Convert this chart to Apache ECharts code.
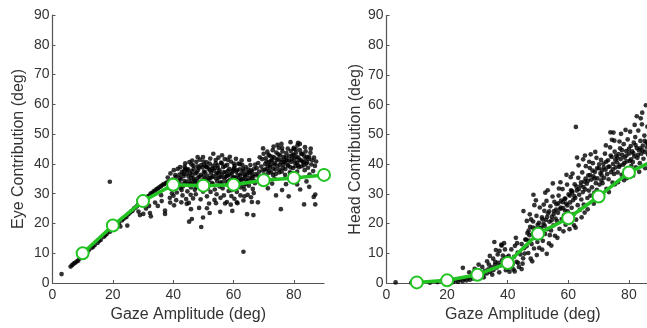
<!DOCTYPE html>
<html>
<head>
<meta charset="utf-8">
<script src="https://cdn.jsdelivr.net/npm/echarts@6/dist/echarts.min.js"></script>
<style>html,body{margin:0;padding:0;background:#fff;overflow:hidden}#c{width:662px;height:328px}</style>
</head>
<body>
<div id="c"></div>
<script>
// Bin centers (deg) for the mean curves
const binCenters = [10, 20, 30, 40, 50, 60, 70, 80, 90];
// Mean eye contribution per bin (left panel, green)
const eyeMean = [10, 19.3, 27.5, 33, 32.7, 33, 34.5, 35.3, 36.3];
// Mean head contribution per bin (right panel, green)
const headMean = [0.2, 0.9, 2.8, 6.7, 16.6, 21.8, 29.1, 37.2, 42];

// Individual gaze shifts: [gaze amplitude, eye contribution]
const eyePoints = [
[3,3],[6,5.5],[6.5,6],[7,6.5],[7.5,6.8],[8,7.2],[8.5,7.5],[9,8.2],[10,9],[11,9.8],[11.5,10.5],[12,11],[13,11.8],[13.5,12.2],[14,12.8],[15,13.5],[15.5,14.2],[16,14.5],[17,15.5],[17.5,16],[18,16.5],[19,17.2],[20,18],[21,18.8],[21.5,19.5],[22,20],[22.5,19],[23,21],[23.5,21.5],[24,22],[24.5,22.2],[25,23],[25.5,23.4],[26,24],[26.5,24.2],[27,25],[27.5,25.3],[28,25.8],[28.5,26.5],[29,26.8],[30,27.5],[30.5,28],[31,28.5],[31.5,29],[32,29.3],[32.5,30],[33,30.2],[33.5,30.8],[34,31],[34.5,31.5],[35,31.8],[35.5,32.2],[36,32.5],[36.5,33],[37,33.2],[37.5,33.5],[38,33.8],[39,34.2],[38.5,32],[39.5,33],
[19,34],[24.8,19.3],[28.5,24],[30.1,23.2],[32.3,23.5],[32.6,22.4],[37.3,23.2],[37.3,24.3],[32,25.9],[34.9,25.9],[36.2,27.5],[39,27],[29,22.8],[31,25],[34,27],[36,29.5],
[38.2,35.4],[38.7,33.9],[39.1,36.8],[39.4,31.6],[39.8,34.7],[40.2,37.9],[40.5,32.8],[40.9,35.6],[41.2,30.4],[41.5,38.3],[41.8,34.1],[42.1,36.4],[42.4,31.9],[40.1,29.3],[41.0,27.8],[39.6,30.1],[42.3,38.9],[40.7,36.2],[38.9,28.6],[41.7,33.2],
[42.6,34.8],[42.9,37.3],[43.2,32.4],[43.5,35.9],[43.8,39.1],[44.1,33.6],[44.4,36.7],[44.7,30.8],[45.0,38.2],[45.3,34.4],[45.6,36.9],[45.9,32.1],[43.1,29.4],[44.3,28.2],[45.4,40.6],[46.0,35.3],[43.7,37.8],[44.9,33.1],[45.8,29.6],[42.8,31.2],[44.0,40.2],[45.2,26.9],
[46.2,37.6],[46.4,33.8],[46.7,39.4],[46.9,35.1],[47.2,31.3],[47.4,36.8],[47.7,40.7],[47.9,34.2],[48.2,37.9],[48.4,32.6],[48.7,35.7],[48.9,41.4],[49.2,36.3],[49.4,33.4],[49.7,38.8],[49.9,30.7],[50.1,35.9],[50.3,39.6],[46.6,28.4],[47.5,29.8],[48.1,42.3],[49.1,28.1],[49.9,42.3],[46.3,41.1],[48.6,38.7],[50.4,33.2],[47.1,34.5],
[50.6,37.2],[50.8,34.4],[51.1,40.5],[51.3,36.1],[51.6,32.3],[51.8,38.4],[52.1,35.2],[52.3,41.8],[52.6,36.9],[52.8,33.6],[53.1,39.3],[53.3,35.8],[53.6,37.7],[53.8,31.4],[54.1,40.2],[54.3,36.5],[54.6,34.1],[54.8,38.6],[55.1,35.4],[51.2,29.1],[52.4,30.6],[53.3,43.4],[54.4,29.8],[55.0,42.1],[51.9,26.7],[53.7,27.9],[50.9,39.1],[52.9,38.2],[54.7,36.9],
[55.4,37.8],[55.6,33.7],[55.9,40.4],[56.1,36.3],[56.4,31.8],[56.6,38.9],[56.9,35.1],[57.1,41.6],[57.4,37.2],[57.6,33.9],[57.9,39.7],[58.1,36.1],[58.4,30.9],[58.6,38.3],[58.9,34.6],[59.1,40.8],[59.4,36.7],[59.6,32.4],[59.9,38.1],[55.7,28.6],[56.8,29.4],[57.8,27.2],[58.8,42.4],[59.3,29.2],[56.2,42.9],[57.3,35.6],[58.3,34.2],[59.7,35.3],
[60.1,35.6],[60.4,39.3],[60.6,33.2],[60.9,37.4],[61.1,30.6],[61.4,36.2],[61.6,40.1],[61.9,34.3],[62.1,38.2],[62.4,32.1],[62.6,36.8],[62.9,39.7],[63.1,34.9],[63.4,37.6],[63.6,31.4],[63.9,35.8],[64.1,38.9],[60.3,28.3],[61.3,26.8],[62.3,29.4],[63.3,27.7],[64.2,33.3],[60.8,41.7],[62.7,41.2],[61.7,35.1],
[64.4,36.4],[64.6,34.2],[64.9,38.1],[65.1,32.7],[65.4,36.9],[65.6,39.6],[65.9,34.8],[66.1,37.3],[66.4,31.6],[66.6,35.7],[66.9,38.4],[67.1,33.5],[67.4,36.6],[64.7,29.6],[65.8,28.8],[66.7,30.2],[65.2,41.3],[67.2,39.8],
[42.2,35.3],[42.9,33.1],[43.4,36.6],[43.9,34.2],[44.6,37.9],[45.1,35.8],[45.7,33.4],[46.3,36.2],[46.8,38.3],[47.3,33.6],[47.8,37.1],[48.3,35.4],[48.8,33.1],[49.3,39.6],[49.8,34.5],[50.2,37.4],[50.7,35.1],[51.2,38.9],[51.7,34.6],[52.2,37.8],[52.7,35.5],[53.2,33.2],[53.7,38.7],[54.2,35.1],[54.7,39.5],[55.2,37.1],[55.7,35.6],[56.2,33.8],[56.7,37.2],[57.2,39.3],[57.7,35.9],[58.2,37.7],[58.7,36.4],[59.2,34.1],[59.7,37.5],[60.2,38.6],[60.7,35.2],[61.2,37.9],[61.7,33.6],[62.2,36.1],[62.7,34.7],[63.2,38.3],[63.7,36.3],[64.2,34.6],[64.8,37.2],[65.3,35.3],[65.8,37.8],[66.3,36.1],[66.8,34.3],[44.1,38.4],[46.1,39.8],[48.1,39.2],[50.1,40.8],[52.1,40.1],[54.1,41.3],[56.1,40.2],[58.1,41.4],[60.1,40.1],[62.1,39.9],[47.6,32.2],[51.4,31.7],[55.4,32.4],[59.4,31.2],[63.4,32.6],
[45.9,24.8],[46.2,21.5],[45.3,20.6],[49.3,18.8],[49.9,22],[48.6,25.2],[51.2,25.1],[52.1,23.5],[54.2,26.8],[55.6,23.9],[57.2,26.7],[59.6,24.2],[59.1,26.3],[61.1,27.1],[63.3,10.5],[66.6,22.8],[66.1,27.2],[63.6,29.1],[64.5,23.1],[42.7,27.1],[44.5,26.6],[40.3,26.1],
[67.7,38.6],[68.0,36.1],[68.2,40.3],[68.5,37.4],[68.7,42.2],[69.0,35.3],[69.2,39.1],[69.5,41.6],[69.7,37.8],[70.0,43.4],[70.2,36.4],[70.5,39.9],[70.7,41.9],[71.0,38.2],[71.2,44.1],[71.5,36.9],[71.7,40.6],[72.0,42.7],[68.1,27.1],[69.4,33.4],[70.3,34.2],[71.4,31.8],[72.1,38.9],[69.8,45.2],
[72.2,39.6],[72.5,37.1],[72.7,41.3],[73.0,44.6],[73.2,38.4],[73.5,42.1],[73.7,40.2],[74.0,36.6],[74.2,43.8],[74.5,39.3],[74.7,41.7],[75.0,45.4],[75.2,38.1],[75.5,42.9],[75.7,40.6],[76.0,37.4],[76.2,44.2],[76.5,39.8],[76.7,42.3],[72.8,33.4],[73.6,35.1],[74.1,29.4],[75.7,24.8],[76.1,31.2],[74.6,46.4],[75.9,46.7],[73.3,45.8],
[77.0,40.9],[77.2,38.3],[77.5,43.6],[77.7,41.2],[78.0,45.1],[78.2,39.4],[78.5,42.6],[78.7,37.2],[79.0,44.3],[79.2,40.7],[79.5,42.9],[79.7,38.6],[80.0,45.4],[80.2,41.8],[80.5,39.2],[80.7,43.7],[81.0,40.4],[81.2,46.2],[81.5,42.1],[81.7,38.9],[82.0,44.6],[77.4,33.2],[78.3,29.1],[79.9,45.0],[80.3,35.3],[81.1,33.1],[82.0,46.7],[81.4,47.1],[82.1,31.4],[78.9,47.3],
[82.3,41.3],[82.6,39.2],[82.8,43.4],[83.1,40.6],[83.3,42.8],[83.6,37.9],[83.9,44.2],[84.1,40.1],[84.4,42.4],[84.7,38.7],[84.9,41.6],[85.2,36.4],[85.5,43.7],[85.8,39.8],[86.1,41.2],[86.4,37.6],[86.7,42.1],[87.0,39.3],[87.4,40.8],[83.4,26.4],[87.1,29.7],[86.6,28.9],[87.1,26.4],[84.2,34.1],[85.1,32.3],[83.7,45.6],[85.6,45.1],
[70.4,38.1],[70.9,40.8],[71.4,39.3],[71.9,37.6],[72.4,40.9],[72.9,42.4],[73.4,39.8],[73.9,38.1],[74.4,41.2],[74.9,43.2],[75.4,39.7],[75.9,41.4],[76.4,38.6],[76.9,40.6],[77.4,42.2],[77.9,39.7],[78.4,41.1],[78.9,38.8],[79.4,41.6],[79.9,43.1],[80.4,40.4],[80.9,42.3],[81.4,39.5],[81.9,41.2],[82.4,43.4],[82.9,40.8],[83.4,39.6],[83.9,41.8],[84.4,40.5],[85.1,42.3],[73.1,36.3],[75.1,37.1],[77.1,36.3],[79.1,36.9],[81.1,37.4],[71.6,43.1],[76.1,45.3],[80.6,44.9]
];

// Individual gaze shifts: [gaze amplitude, head contribution]
const headPoints = [
[3,0.2],[8.2,0.1],[11.5,0.2],[14.3,0.1],[16.8,0.3],[18.6,0.4],[20.7,0.5],[21.9,0.3],[22.8,0.8],[23.6,0.4],[24.3,1.1],[25.1,0.6],[25.7,1.4],[26.4,0.9],[26.9,1.7],[27.5,1.1],[28.1,2.2],[28.6,1.5],[29.2,2.6],[29.7,1.8],[30.3,3.1],[30.8,2.3],[31.4,3.6],[31.9,2.7],[32.5,4.1],[33.1,3.2],[33.6,4.6],[34.2,3.7],[34.7,5.3],[35.3,4.4],[35.8,6.1],[36.4,5.2],[36.9,6.8],[37.5,5.9],[38.1,7.6],[38.6,6.4],[39.2,8.2],[39.7,6.9],[32.1,1.9],[34.9,2.8],[37.2,3.6],[39.4,4.3],
[25.2,5.1],[27.3,3.6],[29.1,4.8],[30.4,6.2],[31.6,5.4],[33.2,7.3],[34.1,9.1],[35.2,8.2],[36.1,11.1],[36.7,9.6],[37.3,10.8],[38.4,9.2],[39.1,11.3],[39.6,8.6],[37.9,12.9],[35.9,7.1],[38.8,13.4],[33.8,6.2],[40.1,4.9],[41.1,5.6],[42.3,3.9],[43.4,6.8],[44.6,4.7],[35.6,13.8],[38,12.6],
[40.3,9.1],[40.8,7.4],[41.2,11.3],[41.6,6.2],[42.1,8.8],[42.4,12.5],[42.9,7.1],[43.3,10.2],[43.7,5.4],[44.2,9.6],[44.6,13.1],[45.1,8.3],[45.4,11.7],[45.8,14.6],[44.9,6.5],[43.1,13.4],[41.9,4.6],[40.6,3.8],[42.7,15.2],[45.6,9.9],[45.2,24.2],
[46.2,12.4],[46.5,16.8],[46.8,10.1],[47.1,14.3],[47.4,18.9],[47.6,8.2],[47.9,13.1],[48.2,16.4],[48.4,20.7],[48.7,11.6],[49.0,15.2],[49.2,18.3],[49.5,22.6],[49.8,13.8],[50.1,17.1],[50.3,20.2],[50.6,25.4],[50.9,15.7],[46.3,20.9],[47.3,23.1],[48.8,26.2],[49.6,9.4],[50.4,11.8],[48.1,7.3],[46.9,17.6],[49.3,27.8],[47.7,21.4],[48.5,29.7],
[51.1,18.6],[51.3,22.1],[51.6,14.2],[51.8,19.9],[52.1,24.3],[52.3,16.5],[52.6,21.2],[52.8,27.6],[53.1,18.1],[53.3,23.4],[53.6,13.3],[53.8,20.6],[54.1,25.8],[54.3,17.7],[54.6,22.3],[54.8,29.1],[55.1,19.4],[55.3,24.2],[55.6,15.9],[55.8,21.7],[51.4,11.2],[52.4,30.4],[53.2,31.2],[54.4,12.6],[55.4,27.3],[51.9,26.4],[53.9,16.1],[54.9,33.5],[52.9,9.8],
[56.1,26.5],[56.3,20.8],[56.6,23.6],[56.8,29.4],[57.1,18.2],[57.3,24.9],[57.6,27.7],[57.8,21.5],[58.1,31.6],[58.3,25.2],[58.6,22.8],[58.8,28.3],[59.1,19.6],[59.3,26.7],[59.6,33.1],[59.8,24.1],[60.1,29.8],[60.3,22.4],[60.6,27.1],[60.8,35.6],[56.4,15.2],[57.4,33.9],[58.4,17.4],[59.4,36.4],[60.4,18.1],[56.9,31.8],[58.9,24.4],[60.9,31.2],
[61.1,25.3],[61.3,30.4],[61.6,27.9],[61.8,23.2],[62.1,33.2],[62.3,28.6],[62.6,21.3],[62.8,31.1],[63.1,26.2],[63.3,35.4],[63.6,29.7],[63.8,24.6],[64.1,32.8],[64.3,28.1],[64.6,37.2],[64.8,30.6],[65.1,26.4],[65.3,34.1],[65.6,31.5],[65.8,39.3],[61.4,36.8],[62.4,18.6],[63.4,39.6],[64.4,22.1],[65.4,23.7],[62.9,42.2],[61.9,19.4],[64.9,41.6],[62.5,52.5],[65.5,42.9],
[66.1,33.4],[66.3,28.6],[66.6,36.2],[66.8,31.1],[67.1,38.7],[67.3,29.4],[67.6,34.8],[67.8,32.2],[68.1,40.3],[68.3,35.9],[68.6,30.4],[68.8,37.4],[69.1,33.6],[69.3,42.1],[69.6,35.2],[69.8,28.9],[70.1,38.6],[70.3,33.1],[70.6,36.9],[70.8,41.4],[66.4,24.8],[67.4,43.3],[68.4,26.7],[69.4,31.3],[70.4,29.2],[66.9,40.8],[68.9,44.1],[70.9,34.5],
[71.1,37.8],[71.3,33.6],[71.6,40.2],[71.8,35.4],[72.1,43.5],[72.3,38.1],[72.6,31.7],[72.8,36.6],[73.1,41.3],[73.3,34.9],[73.6,39.2],[73.8,45.6],[74.1,37.3],[74.3,42.4],[74.6,33.8],[74.8,40.1],[75.1,36.7],[75.3,44.2],[75.6,38.9],[75.8,42.8],[71.4,29.9],[72.4,46.3],[73.4,30.6],[74.4,48.2],[75.4,33.2],[73.9,50.7],[75.2,47.9],[74.9,50.6],
[76.1,40.6],[76.3,37.2],[76.6,43.4],[76.8,39.1],[77.1,45.3],[77.3,41.7],[77.6,36.4],[77.8,43.1],[78.1,39.8],[78.3,46.7],[78.6,42.2],[78.8,37.6],[79.1,44.4],[79.3,40.9],[79.6,48.3],[79.8,38.5],[80.1,43.6],[80.3,41.1],[80.6,46.1],[80.8,39.4],[76.4,33.9],[77.4,50.2],[78.4,34.6],[79.4,35.3],[80.4,50.9],[76.9,47.6],[78.9,51.5],[80.9,36.8],
[81.1,44.3],[81.3,40.7],[81.6,47.2],[81.8,42.6],[82.1,49.1],[82.3,38.9],[82.6,45.4],[82.8,42.1],[83.1,51.3],[83.3,44.7],[83.6,40.3],[83.8,47.8],[84.1,43.5],[84.3,53.4],[84.6,46.2],[84.8,41.8],[85.1,49.6],[85.3,44.1],[85.6,59.8],[85.8,47.3],[86.1,52.6],[86.3,43.2],[81.4,36.2],[82.6,56.1],[83.4,37.4],[84.4,57.3],[85.4,38.6],[86.2,46.8],[81.9,53.2],[83.9,55.4],
[46.1,14.6],[47.2,16.1],[48.3,18.6],[49.1,17.2],[49.9,19.6],[50.7,18.4],[51.5,21.4],[52.2,19.3],[53.0,22.2],[53.7,24.1],[54.5,21.1],[55.2,23.2],[56.0,24.7],[56.7,26.8],[57.5,25.4],[58.2,27.2],[59.0,28.4],[59.7,26.1],[60.5,29.4],[61.2,30.9],[62.0,29.2],[62.7,32.4],[63.5,31.6],[64.2,33.9],[65.0,32.3],[65.7,35.1],[66.5,34.4],[67.2,36.3],[68.0,37.8],[68.7,35.2],[69.5,38.6],[70.2,39.9],[71.0,36.2],[71.7,38.9],[72.5,40.8],[73.2,39.1],[74.0,42.9],[74.7,38.2],[75.5,41.5],[76.2,42.1],[77.0,39.6],[77.7,44.7],[78.5,40.4],[79.2,42.9],[80.0,45.1],[80.7,41.6],[81.5,43.6],[82.2,46.4],[83.0,43.1],[83.7,45.3],[84.5,44.6],[85.2,47.8],[86.0,45.6]
];

const xTicks = {min: 0, max: 90, interval: 20};
const yTicks = {min: 0, max: 90, interval: 10};
const titles = {x: 'Gaze Amplitude (deg)', yEye: 'Eye Contribution (deg)', yHead: 'Head Contribution (deg)'};

const FONT = 'Liberation Sans, Arial, Helvetica, sans-serif';
const GREEN = '#22c322';
const AX = '#555';
const TXT = '#333';

function xAxis(gi) {
  return {
    type: 'value', gridIndex: gi, min: xTicks.min, max: xTicks.max, interval: xTicks.interval,
    name: titles.x, nameLocation: 'middle', nameGap: 24,
    nameTextStyle: {fontFamily: FONT, fontSize: 16, color: TXT},
    axisLine: {show: true, lineStyle: {color: AX, width: 1.2}},
    axisTick: {show: true, inside: true, length: 3, lineStyle: {color: AX}},
    axisLabel: {fontFamily: FONT, fontSize: 14, color: TXT, margin: 5, showMaxLabel: false},
    splitLine: {show: false}
  };
}
function yAxis(gi, name, gap) {
  return {
    type: 'value', gridIndex: gi, min: yTicks.min, max: yTicks.max, interval: yTicks.interval,
    name: name, nameLocation: 'middle', nameGap: gap,
    nameTextStyle: {fontFamily: FONT, fontSize: 16, color: TXT},
    axisLine: {show: true, lineStyle: {color: AX, width: 1.2}},
    axisTick: {show: true, inside: true, length: 3, lineStyle: {color: AX}},
    axisLabel: {fontFamily: FONT, fontSize: 14, color: TXT, margin: 3},
    splitLine: {show: false}
  };
}

const chart = echarts.init(document.getElementById('c'), null, {renderer: 'canvas'});
chart.setOption({
  animation: false,
  backgroundColor: '#fff',
  grid: [
    {left: 52.5, top: 15, width: 271.5, height: 273.5},
    {left: 386.5, top: 15.5, width: 272.7, height: 274.5}
  ],
  xAxis: [xAxis(0), xAxis(1)],
  yAxis: [yAxis(0, titles.yEye, 26), yAxis(1, titles.yHead, 22)],
  series: [
    {type: 'scatter', xAxisIndex: 0, yAxisIndex: 0, data: eyePoints, symbolSize: 4.7, itemStyle: {color: '#000'}},
    {type: 'scatter', xAxisIndex: 1, yAxisIndex: 1, data: headPoints, symbolSize: 4.7, itemStyle: {color: '#000'}},
    {type: 'line', xAxisIndex: 0, yAxisIndex: 0, data: binCenters.map((x, i) => [x, eyeMean[i]]),
     symbol: 'emptyCircle', symbolSize: 12, lineStyle: {color: GREEN, width: 3.5},
     itemStyle: {color: GREEN, borderWidth: 2.8}},
    {type: 'line', xAxisIndex: 1, yAxisIndex: 1, data: binCenters.map((x, i) => [x, headMean[i]]),
     symbol: 'emptyCircle', symbolSize: 12, lineStyle: {color: GREEN, width: 3.5},
     itemStyle: {color: GREEN, borderWidth: 2.8}}
  ]
});
</script>
</body>
</html>
